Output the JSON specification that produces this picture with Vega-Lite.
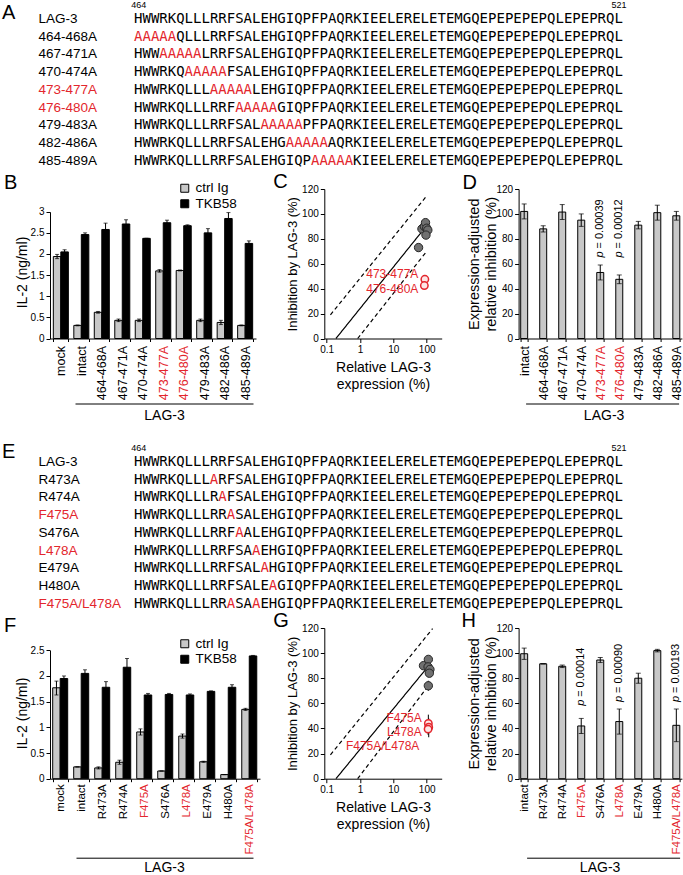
{
 "$schema": "https://vega.github.io/schema/vega-lite/v6.json",
 "background": "white",
 "padding": {"left": 2, "top": 0, "right": 0, "bottom": 0},
 "config": {
  "view": {"stroke": null},
  "font": "Liberation Sans",
  "axis": {"grid": false, "domainColor": "#000", "tickColor": "#000", "labelColor": "#000", "titleColor": "#000", "titleFontWeight": "normal", "labelFontSize": 10, "titleFontSize": 14, "tickSize": 4, "labelPadding": 2, "domainWidth": 1, "tickWidth": 1, "labelOverlap": false},
  "title": {"fontSize": 20, "fontWeight": "normal", "anchor": "start", "frame": "group", "color": "#000", "offset": 0},
  "legend": {"labelFontSize": 13.5, "labelColor": "#000"}
 },
 "datasets": {
  "seqA": [
   {"row": "LAG-3", "start": 464, "seq": "HWWRKQLLLRRFSALEHGIQPFPAQRKIEELERELETEMGQEPEPEPEPQLEPEPRQL", "mut": false},
   {"row": "464-468A", "start": 464, "seq": "AAAAA", "mut": true},
   {"row": "464-468A", "start": 469, "seq": "QLLLRRFSALEHGIQPFPAQRKIEELERELETEMGQEPEPEPEPQLEPEPRQL", "mut": false},
   {"row": "467-471A", "start": 464, "seq": "HWW", "mut": false},
   {"row": "467-471A", "start": 467, "seq": "AAAAA", "mut": true},
   {"row": "467-471A", "start": 472, "seq": "LRRFSALEHGIQPFPAQRKIEELERELETEMGQEPEPEPEPQLEPEPRQL", "mut": false},
   {"row": "470-474A", "start": 464, "seq": "HWWRKQ", "mut": false},
   {"row": "470-474A", "start": 470, "seq": "AAAAA", "mut": true},
   {"row": "470-474A", "start": 475, "seq": "FSALEHGIQPFPAQRKIEELERELETEMGQEPEPEPEPQLEPEPRQL", "mut": false},
   {"row": "473-477A", "start": 464, "seq": "HWWRKQLLL", "mut": false},
   {"row": "473-477A", "start": 473, "seq": "AAAAA", "mut": true},
   {"row": "473-477A", "start": 478, "seq": "LEHGIQPFPAQRKIEELERELETEMGQEPEPEPEPQLEPEPRQL", "mut": false},
   {"row": "476-480A", "start": 464, "seq": "HWWRKQLLLRRF", "mut": false},
   {"row": "476-480A", "start": 476, "seq": "AAAAA", "mut": true},
   {"row": "476-480A", "start": 481, "seq": "GIQPFPAQRKIEELERELETEMGQEPEPEPEPQLEPEPRQL", "mut": false},
   {"row": "479-483A", "start": 464, "seq": "HWWRKQLLLRRFSAL", "mut": false},
   {"row": "479-483A", "start": 479, "seq": "AAAAA", "mut": true},
   {"row": "479-483A", "start": 484, "seq": "PFPAQRKIEELERELETEMGQEPEPEPEPQLEPEPRQL", "mut": false},
   {"row": "482-486A", "start": 464, "seq": "HWWRKQLLLRRFSALEHG", "mut": false},
   {"row": "482-486A", "start": 482, "seq": "AAAAA", "mut": true},
   {"row": "482-486A", "start": 487, "seq": "AQRKIEELERELETEMGQEPEPEPEPQLEPEPRQL", "mut": false},
   {"row": "485-489A", "start": 464, "seq": "HWWRKQLLLRRFSALEHGIQP", "mut": false},
   {"row": "485-489A", "start": 485, "seq": "AAAAA", "mut": true},
   {"row": "485-489A", "start": 490, "seq": "KIEELERELETEMGQEPEPEPEPQLEPEPRQL", "mut": false}
  ],
  "seqE": [
   {"row": "LAG-3", "start": 464, "seq": "HWWRKQLLLRRFSALEHGIQPFPAQRKIEELERELETEMGQEPEPEPEPQLEPEPRQL", "mut": false},
   {"row": "R473A", "start": 464, "seq": "HWWRKQLLL", "mut": false},
   {"row": "R473A", "start": 473, "seq": "A", "mut": true},
   {"row": "R473A", "start": 474, "seq": "RFSALEHGIQPFPAQRKIEELERELETEMGQEPEPEPEPQLEPEPRQL", "mut": false},
   {"row": "R474A", "start": 464, "seq": "HWWRKQLLLR", "mut": false},
   {"row": "R474A", "start": 474, "seq": "A", "mut": true},
   {"row": "R474A", "start": 475, "seq": "FSALEHGIQPFPAQRKIEELERELETEMGQEPEPEPEPQLEPEPRQL", "mut": false},
   {"row": "F475A", "start": 464, "seq": "HWWRKQLLLRR", "mut": false},
   {"row": "F475A", "start": 475, "seq": "A", "mut": true},
   {"row": "F475A", "start": 476, "seq": "SALEHGIQPFPAQRKIEELERELETEMGQEPEPEPEPQLEPEPRQL", "mut": false},
   {"row": "S476A", "start": 464, "seq": "HWWRKQLLLRRF", "mut": false},
   {"row": "S476A", "start": 476, "seq": "A", "mut": true},
   {"row": "S476A", "start": 477, "seq": "ALEHGIQPFPAQRKIEELERELETEMGQEPEPEPEPQLEPEPRQL", "mut": false},
   {"row": "L478A", "start": 464, "seq": "HWWRKQLLLRRFSA", "mut": false},
   {"row": "L478A", "start": 478, "seq": "A", "mut": true},
   {"row": "L478A", "start": 479, "seq": "EHGIQPFPAQRKIEELERELETEMGQEPEPEPEPQLEPEPRQL", "mut": false},
   {"row": "E479A", "start": 464, "seq": "HWWRKQLLLRRFSAL", "mut": false},
   {"row": "E479A", "start": 479, "seq": "A", "mut": true},
   {"row": "E479A", "start": 480, "seq": "HGIQPFPAQRKIEELERELETEMGQEPEPEPEPQLEPEPRQL", "mut": false},
   {"row": "H480A", "start": 464, "seq": "HWWRKQLLLRRFSALE", "mut": false},
   {"row": "H480A", "start": 480, "seq": "A", "mut": true},
   {"row": "H480A", "start": 481, "seq": "GIQPFPAQRKIEELERELETEMGQEPEPEPEPQLEPEPRQL", "mut": false},
   {"row": "F475A/L478A", "start": 464, "seq": "HWWRKQLLLRR", "mut": false},
   {"row": "F475A/L478A", "start": 475, "seq": "A", "mut": true},
   {"row": "F475A/L478A", "start": 476, "seq": "SA", "mut": false},
   {"row": "F475A/L478A", "start": 478, "seq": "A", "mut": true},
   {"row": "F475A/L478A", "start": 479, "seq": "EHGIQPFPAQRKIEELERELETEMGQEPEPEPEPQLEPEPRQL", "mut": false}
  ],
  "barB": [
   {"cat": "mock", "treat": "ctrl Ig", "v": 1.94, "lo": 1.89, "hi": 1.99},
   {"cat": "mock", "treat": "TKB58", "v": 2.05, "lo": 2.0, "hi": 2.1},
   {"cat": "intact", "treat": "ctrl Ig", "v": 0.31, "lo": 0.3, "hi": 0.32},
   {"cat": "intact", "treat": "TKB58", "v": 2.46, "lo": 2.42, "hi": 2.5},
   {"cat": "464-468A", "treat": "ctrl Ig", "v": 0.62, "lo": 0.6, "hi": 0.64},
   {"cat": "464-468A", "treat": "TKB58", "v": 2.58, "lo": 2.43, "hi": 2.73},
   {"cat": "467-471A", "treat": "ctrl Ig", "v": 0.43, "lo": 0.4, "hi": 0.46},
   {"cat": "467-471A", "treat": "TKB58", "v": 2.71, "lo": 2.61, "hi": 2.81},
   {"cat": "470-474A", "treat": "ctrl Ig", "v": 0.43, "lo": 0.4, "hi": 0.46},
   {"cat": "470-474A", "treat": "TKB58", "v": 2.37, "lo": 2.37, "hi": 2.37},
   {"cat": "473-477A", "treat": "ctrl Ig", "v": 1.6, "lo": 1.57, "hi": 1.63},
   {"cat": "473-477A", "treat": "TKB58", "v": 2.74, "lo": 2.68, "hi": 2.8},
   {"cat": "476-480A", "treat": "ctrl Ig", "v": 1.61, "lo": 1.6, "hi": 1.62},
   {"cat": "476-480A", "treat": "TKB58", "v": 2.67, "lo": 2.65, "hi": 2.69},
   {"cat": "479-483A", "treat": "ctrl Ig", "v": 0.43, "lo": 0.4, "hi": 0.46},
   {"cat": "479-483A", "treat": "TKB58", "v": 2.5, "lo": 2.4, "hi": 2.6},
   {"cat": "482-486A", "treat": "ctrl Ig", "v": 0.38, "lo": 0.33, "hi": 0.43},
   {"cat": "482-486A", "treat": "TKB58", "v": 2.84, "lo": 2.7, "hi": 2.98},
   {"cat": "485-489A", "treat": "ctrl Ig", "v": 0.31, "lo": 0.3, "hi": 0.32},
   {"cat": "485-489A", "treat": "TKB58", "v": 2.25, "lo": 2.19, "hi": 2.31}
  ],
  "lineC": [
   {"line": "fit", "x": 0.19, "y": 0}, {"line": "fit", "x": 70, "y": 85.5},
   {"line": "upper", "x": 0.13, "y": 19}, {"line": "upper", "x": 100, "y": 114.5},
   {"line": "lower", "x": 0.85, "y": 0}, {"line": "lower", "x": 100, "y": 70}
  ],
  "ptsC": [
   {"x": 72, "y": 88, "lo": 86, "hi": 90},
   {"x": 85, "y": 90, "lo": 88, "hi": 92},
   {"x": 92, "y": 93, "lo": 91, "hi": 96},
   {"x": 100, "y": 88.5, "lo": 86.5, "hi": 90.5},
   {"x": 108, "y": 87, "lo": 85, "hi": 89},
   {"x": 95, "y": 83, "lo": 81, "hi": 85},
   {"x": 57, "y": 73, "lo": 70, "hi": 75}
  ],
  "redC": [
   {"x": 88, "y": 47.5, "lo": 44, "hi": 51},
   {"x": 85, "y": 42.5, "lo": 41, "hi": 44}
  ],
  "labC": [
   {"t": "473-477A", "x": 56, "y": 52},
   {"t": "476-480A", "x": 56, "y": 40}
  ],
  "barD": [
   {"cat": "intact", "v": 102, "lo": 96, "hi": 108},
   {"cat": "464-468A", "v": 88, "lo": 85.5, "hi": 90.5},
   {"cat": "467-471A", "v": 101.5, "lo": 95.5, "hi": 107.5},
   {"cat": "470-474A", "v": 95, "lo": 90, "hi": 100},
   {"cat": "473-477A", "v": 53, "lo": 47, "hi": 59},
   {"cat": "476-480A", "v": 47.5, "lo": 44, "hi": 51},
   {"cat": "479-483A", "v": 91, "lo": 88, "hi": 94},
   {"cat": "482-486A", "v": 101, "lo": 95, "hi": 107},
   {"cat": "485-489A", "v": 98.5, "lo": 95, "hi": 102}
  ],
  "pD": [
   {"cat": "473-477A", "py": 65, "ptxt": "= 0.00039"},
   {"cat": "476-480A", "py": 65, "ptxt": "= 0.00012"}
  ],
  "barF": [
   {"cat": "mock", "treat": "ctrl Ig", "v": 1.77, "lo": 1.63, "hi": 1.9},
   {"cat": "mock", "treat": "TKB58", "v": 1.95, "lo": 1.9, "hi": 2.0},
   {"cat": "intact", "treat": "ctrl Ig", "v": 0.23, "lo": 0.23, "hi": 0.23},
   {"cat": "intact", "treat": "TKB58", "v": 2.05, "lo": 1.98, "hi": 2.12},
   {"cat": "R473A", "treat": "ctrl Ig", "v": 0.21, "lo": 0.19, "hi": 0.23},
   {"cat": "R473A", "treat": "TKB58", "v": 1.78, "lo": 1.67, "hi": 1.89},
   {"cat": "R474A", "treat": "ctrl Ig", "v": 0.32, "lo": 0.28, "hi": 0.36},
   {"cat": "R474A", "treat": "TKB58", "v": 2.17, "lo": 2.0, "hi": 2.34},
   {"cat": "F475A", "treat": "ctrl Ig", "v": 0.91, "lo": 0.85, "hi": 0.97},
   {"cat": "F475A", "treat": "TKB58", "v": 1.63, "lo": 1.6, "hi": 1.66},
   {"cat": "S476A", "treat": "ctrl Ig", "v": 0.15, "lo": 0.15, "hi": 0.15},
   {"cat": "S476A", "treat": "TKB58", "v": 1.64, "lo": 1.62, "hi": 1.66},
   {"cat": "L478A", "treat": "ctrl Ig", "v": 0.83, "lo": 0.79, "hi": 0.87},
   {"cat": "L478A", "treat": "TKB58", "v": 1.63, "lo": 1.6, "hi": 1.65},
   {"cat": "E479A", "treat": "ctrl Ig", "v": 0.33, "lo": 0.32, "hi": 0.34},
   {"cat": "E479A", "treat": "TKB58", "v": 1.7, "lo": 1.69, "hi": 1.71},
   {"cat": "H480A", "treat": "ctrl Ig", "v": 0.08, "lo": 0.08, "hi": 0.08},
   {"cat": "H480A", "treat": "TKB58", "v": 1.78, "lo": 1.73, "hi": 1.83},
   {"cat": "F475A/L478A", "treat": "ctrl Ig", "v": 1.35, "lo": 1.33, "hi": 1.37},
   {"cat": "F475A/L478A", "treat": "TKB58", "v": 2.39, "lo": 2.38, "hi": 2.4}
  ],
  "lineG": [
   {"line": "fit", "x": 0.19, "y": 0}, {"line": "fit", "x": 100, "y": 88},
   {"line": "upper", "x": 0.13, "y": 19}, {"line": "upper", "x": 150, "y": 119.5},
   {"line": "lower", "x": 0.85, "y": 0}, {"line": "lower", "x": 120, "y": 75}
  ],
  "ptsG": [
   {"x": 80, "y": 90, "lo": 88, "hi": 92},
   {"x": 112, "y": 95, "lo": 93, "hi": 97},
   {"x": 110, "y": 89, "lo": 87, "hi": 91},
   {"x": 125, "y": 87, "lo": 85, "hi": 89},
   {"x": 120, "y": 84, "lo": 82, "hi": 86},
   {"x": 112, "y": 74, "lo": 70, "hi": 78}
  ],
  "redG": [
   {"x": 112, "y": 44, "lo": 38, "hi": 51},
   {"x": 115, "y": 41, "lo": 33, "hi": 48},
   {"x": 110, "y": 39.5, "lo": 35, "hi": 44}
  ],
  "labG": [
   {"t": "F475A", "x": 71, "y": 48},
   {"t": "L478A", "x": 71, "y": 37},
   {"t": "F475A/L478A", "x": 60, "y": 26}
  ],
  "barH": [
   {"cat": "intact", "v": 99.5, "lo": 95, "hi": 104},
   {"cat": "R473A", "v": 91.5, "lo": 91.5, "hi": 91.5},
   {"cat": "R474A", "v": 89.5, "lo": 88.5, "hi": 90.5},
   {"cat": "F475A", "v": 42, "lo": 36, "hi": 48},
   {"cat": "S476A", "v": 94.5, "lo": 92.5, "hi": 96.5},
   {"cat": "L478A", "v": 45.5, "lo": 35.5, "hi": 55.5},
   {"cat": "E479A", "v": 80, "lo": 76, "hi": 84},
   {"cat": "H480A", "v": 102, "lo": 101, "hi": 103},
   {"cat": "F475A/L478A", "v": 42.5, "lo": 29.5, "hi": 55.5}
  ],
  "pH": [
   {"cat": "F475A", "py": 58, "ptxt": "= 0.00014"},
   {"cat": "L478A", "py": 61, "ptxt": "= 0.00090"},
   {"cat": "F475A/L478A", "py": 61, "ptxt": "= 0.00193"}
  ],
  "none": []
 },
 "spacing": 10,
 "bounds": "flush",
 "resolve": {"scale": {"color": "independent", "strokeDash": "independent"}, "legend": {"color": "independent"}},
 "vconcat": [
  {
   "width": 632, "height": 168.5,
   "title": {"text": "A", "dx": -48, "dy": 27},
   "data": {"name": "seqA"},
   "mark": {"type": "text", "align": "left", "baseline": "middle", "dx": -4.2, "font": "DejaVu Sans Mono", "fontSize": 14},
   "encoding": {
    "x": {"field": "start", "type": "quantitative", "scale": {"domain": [453.53, 528.53], "nice": false, "zero": false}, "axis": {"orient": "top", "values": [464, 521], "tickCount": 20, "domain": false, "ticks": false, "tickSize": 0, "labelFontSize": 9, "labelPadding": 1, "title": null, "format": "d"}},
    "y": {"field": "row", "type": "nominal", "bandPosition": 0.5, "scale": {"type": "band", "domain": ["LAG-3", "464-468A", "467-471A", "470-474A", "473-477A", "476-480A", "479-483A", "482-486A", "485-489A"], "paddingInner": 0, "paddingOuter": 0.2465, "align": 0}, "axis": {"title": null, "domain": false, "ticks": false, "tickSize": 0, "labelAlign": "left", "labelPadding": 12, "labelFontSize": 13.5, "labelColor": {"condition": {"test": "datum.value === '473-477A' || datum.value === '476-480A'", "value": "#e3262d"}, "value": "#000"}}},
    "text": {"field": "seq"},
    "color": {"condition": {"test": "datum.mut", "value": "#e3262d"}, "value": "#000"}
   }
  },
  {
   "resolve": {"scale": {"color": "independent"}, "legend": {"color": "independent"}},
   "hconcat": [
    {
     "width": 206, "height": 149.5,
     "title": {"text": "B", "dx": -46, "dy": 15.5},
     "data": {"name": "barB"},
     "resolve": {"axis": {"x": "independent"}},
     "layer": [
      {
       "mark": {"type": "bar", "stroke": "#000", "strokeWidth": 1},
       "encoding": {
        "x": {"field": "cat", "type": "nominal", "scale": {"domain": ["mock", "intact", "464-468A", "467-471A", "470-474A", "473-477A", "476-480A", "479-483A", "482-486A", "485-489A"], "paddingInner": 0.267, "paddingOuter": 0.163}, "axis": {"title": null, "labelAngle": 270, "labelAlign": "right", "labelBaseline": "middle", "labelFontSize": 12.5, "labelPadding": 4, "tickSize": 3, "tickBand": "extent", "labelColor": {"condition": {"test": "datum.value === '473-477A' || datum.value === '476-480A'", "value": "#e3262d"}, "value": "#000"}}},
        "xOffset": {"field": "treat", "type": "nominal", "scale": {"domain": ["ctrl Ig", "TKB58"], "paddingInner": 0, "paddingOuter": 0}},
        "y": {"field": "v", "type": "quantitative", "scale": {"domain": [0, 3.538], "nice": false}, "axis": {"title": "IL-2 (ng/ml)", "values": [0, 0.5, 1, 1.5, 2, 2.5, 3], "tickCount": 20, "format": "~g", "labelOverlap": false, "titleFontSize": 14, "titlePadding": 1, "titleY": 83, "domainDash": [126.6, 1000]}},
        "color": {"field": "treat", "type": "nominal", "scale": {"domain": ["ctrl Ig", "TKB58"], "range": ["#c8c8c8", "#000000"]}, "legend": {"orient": "none", "legendX": 128, "legendY": -7.5, "title": null, "symbolType": "square", "symbolSize": 64, "symbolStrokeColor": "#000", "symbolStrokeWidth": 1, "labelFontSize": 13.5, "rowPadding": 0.5, "labelOffset": 4, "padding": 0}}
       }
      },
      {
       "mark": {"type": "rule", "color": "#000", "strokeWidth": 1},
       "encoding": {
        "x": {"field": "cat", "type": "nominal", "axis": {"orient": "bottom", "offset": 65, "labels": false, "ticks": false, "tickSize": 0, "domainDash": [0, 25, 178, 1000], "title": "LAG-3", "titleFontSize": 14, "titlePadding": 5, "titleX": 114}},
        "xOffset": {"field": "treat", "type": "nominal"},
        "y": {"field": "lo", "type": "quantitative"},
        "y2": {"field": "hi"}
       }
      },
      {
       "mark": {"type": "tick", "color": "#000", "size": 4, "thickness": 1},
       "encoding": {"x": {"field": "cat", "type": "nominal", "axis": null}, "xOffset": {"field": "treat", "type": "nominal"}, "y": {"field": "hi", "type": "quantitative"}}
      },
      {
       "mark": {"type": "tick", "color": "#000", "size": 4, "thickness": 1},
       "encoding": {"x": {"field": "cat", "type": "nominal", "axis": null}, "xOffset": {"field": "treat", "type": "nominal"}, "y": {"field": "lo", "type": "quantitative"}}
      }
     ]
    },
    {
     "width": 125.1, "height": 149.5,
     "title": {"text": "C", "dx": -51, "dy": 12},
     "layer": [
      {
       "data": {"name": "lineC"},
       "mark": {"type": "line", "color": "#000", "strokeWidth": 1.2},
       "encoding": {
        "x": {"field": "x", "type": "quantitative", "scale": {"type": "log", "domain": [0.085, 479], "nice": false}, "axis": {"title": ["Relative LAG-3", "expression (%)"], "values": [0.1, 1, 10, 100], "tickCount": 20, "format": "~g", "labelOverlap": false, "domainDash": [117.4, 1000], "titleX": 58.7, "titlePadding": 6, "titleFontSize": 14, "titleLineHeight": 17}},
        "y": {"field": "y", "type": "quantitative", "scale": {"domain": [0, 120], "nice": false}, "axis": {"title": "Inhibition by LAG-3 (%)", "values": [0, 20, 40, 60, 80, 100, 120], "tickCount": 20, "labelOverlap": false, "titleFontSize": 13, "titlePadding": 2}},
        "detail": {"field": "line", "type": "nominal"},
        "strokeDash": {"field": "line", "type": "nominal", "scale": {"domain": ["fit", "upper", "lower"], "range": [[1, 0], [4, 3], [4, 3]]}, "legend": null}
       }
      },
      {
       "data": {"name": "ptsC"},
       "mark": {"type": "rule", "color": "#000"},
       "encoding": {"x": {"field": "x", "type": "quantitative"}, "y": {"field": "lo", "type": "quantitative"}, "y2": {"field": "hi"}}
      },
      {
       "data": {"name": "ptsC"},
       "mark": {"type": "circle", "size": 70, "fill": "#707070", "stroke": "#262626", "strokeWidth": 1, "opacity": 1},
       "encoding": {"x": {"field": "x", "type": "quantitative"}, "y": {"field": "y", "type": "quantitative"}}
      },
      {
       "data": {"name": "redC"},
       "mark": {"type": "rule", "color": "#e3262d"},
       "encoding": {"x": {"field": "x", "type": "quantitative"}, "y": {"field": "lo", "type": "quantitative"}, "y2": {"field": "hi"}}
      },
      {
       "data": {"name": "redC"},
       "mark": {"type": "point", "shape": "circle", "filled": true, "size": 55, "fill": "#fde6e6", "stroke": "#e3262d", "strokeWidth": 1.5, "opacity": 1},
       "encoding": {"x": {"field": "x", "type": "quantitative"}, "y": {"field": "y", "type": "quantitative"}}
      },
      {
       "data": {"name": "labC"},
       "mark": {"type": "text", "align": "right", "baseline": "middle", "fontSize": 12, "color": "#e3262d"},
       "encoding": {"x": {"field": "x", "type": "quantitative"}, "y": {"field": "y", "type": "quantitative"}, "text": {"field": "t"}}
      }
     ]
    },
    {
     "width": 163.3, "height": 149.5,
     "title": {"text": "D", "dx": -56, "dy": 12.5},
     "data": {"name": "barD"},
     "resolve": {"axis": {"x": "independent"}},
     "layer": [
      {
       "mark": {"type": "bar", "fill": "#c8c8c8", "stroke": "#000", "strokeWidth": 1},
       "encoding": {
        "x": {"field": "cat", "type": "nominal", "scale": {"domain": ["intact", "464-468A", "467-471A", "470-474A", "473-477A", "476-480A", "479-483A", "482-486A", "485-489A"], "paddingInner": 0.633, "paddingOuter": 0.11}, "axis": {"title": null, "labelAngle": 270, "labelAlign": "right", "labelBaseline": "middle", "labelFontSize": 12.5, "labelPadding": 4, "tickSize": 3, "tickBand": "extent", "labelColor": {"condition": {"test": "datum.value === '473-477A' || datum.value === '476-480A'", "value": "#e3262d"}, "value": "#000"}}},
        "y": {"field": "v", "type": "quantitative", "scale": {"domain": [0, 120], "nice": false}, "axis": {"title": ["Expression-adjusted", "relative inhibition (%)"], "values": [0, 20, 40, 60, 80, 100, 120], "tickCount": 20, "labelOverlap": false, "titleFontSize": 14.5, "titleLineHeight": 17, "titlePadding": -3}}
       }
      },
      {
       "mark": {"type": "rule", "color": "#000"},
       "encoding": {
        "x": {"field": "cat", "type": "nominal", "axis": {"orient": "bottom", "offset": 65, "labels": false, "ticks": false, "tickSize": 0, "domainDash": [0, 7, 153, 1000], "title": "LAG-3", "titleFontSize": 14, "titlePadding": 5, "titleX": 85}},
        "y": {"field": "lo", "type": "quantitative"},
        "y2": {"field": "hi"}
       }
      },
      {
       "mark": {"type": "tick", "color": "#000", "size": 5, "thickness": 1},
       "encoding": {"x": {"field": "cat", "type": "nominal", "axis": null}, "y": {"field": "hi", "type": "quantitative"}}
      },
      {
       "mark": {"type": "tick", "color": "#000", "size": 5, "thickness": 1},
       "encoding": {"x": {"field": "cat", "type": "nominal", "axis": null}, "y": {"field": "lo", "type": "quantitative"}}
      },
      {
       "data": {"name": "pD"},
       "mark": {"type": "text", "angle": 270, "align": "left", "baseline": "middle", "fontSize": 11, "fontStyle": "italic"},
       "encoding": {"x": {"field": "cat", "type": "nominal", "axis": null}, "y": {"field": "py", "type": "quantitative"}, "text": {"value": "p"}}
      },
      {
       "data": {"name": "pD"},
       "mark": {"type": "text", "angle": 270, "align": "left", "baseline": "middle", "fontSize": 11, "dx": 9},
       "encoding": {"x": {"field": "cat", "type": "nominal", "axis": null}, "y": {"field": "py", "type": "quantitative"}, "text": {"field": "ptxt"}}
      }
     ]
    }
   ],
   "spacing": 68.3,
   "bounds": "flush"
  },
  {
   "width": 1, "height": 243.5,
   "data": {"name": "none"},
   "mark": {"type": "point", "opacity": 0},
   "encoding": {}
  },
  {
   "width": 632, "height": 165,
   "title": {"text": "E", "dx": -48, "dy": 23},
   "data": {"name": "seqE"},
   "mark": {"type": "text", "align": "left", "baseline": "middle", "dx": -4.2, "font": "DejaVu Sans Mono", "fontSize": 14},
   "encoding": {
    "x": {"field": "start", "type": "quantitative", "scale": {"domain": [453.53, 528.53], "nice": false, "zero": false}, "axis": {"orient": "top", "values": [464, 521], "tickCount": 20, "domain": false, "ticks": false, "tickSize": 0, "labelFontSize": 9, "labelPadding": 1, "title": null, "format": "d"}},
    "y": {"field": "row", "type": "nominal", "bandPosition": 0.5, "scale": {"type": "band", "domain": ["LAG-3", "R473A", "R474A", "F475A", "S476A", "L478A", "E479A", "H480A", "F475A/L478A"], "paddingInner": 0, "paddingOuter": 0.148, "align": 0}, "axis": {"title": null, "domain": false, "ticks": false, "tickSize": 0, "labelAlign": "left", "labelPadding": 12, "labelFontSize": 13.5, "labelColor": {"condition": {"test": "indexof(['F475A','L478A','F475A/L478A'], datum.value) >= 0", "value": "#e3262d"}, "value": "#000"}}},
    "text": {"field": "seq"},
    "color": {"condition": {"test": "datum.mut", "value": "#e3262d"}, "value": "#000"}
   }
  },
  {
   "resolve": {"scale": {"color": "independent"}, "legend": {"color": "independent"}},
   "hconcat": [
    {
     "width": 210, "height": 150.7,
     "title": {"text": "F", "dx": -46, "dy": 11.5},
     "data": {"name": "barF"},
     "resolve": {"axis": {"x": "independent"}},
     "layer": [
      {
       "mark": {"type": "bar", "stroke": "#000", "strokeWidth": 1},
       "encoding": {
        "x": {"field": "cat", "type": "nominal", "scale": {"domain": ["mock", "intact", "R473A", "R474A", "F475A", "S476A", "L478A", "E479A", "H480A", "F475A/L478A"], "paddingInner": 0.26, "paddingOuter": 0.128}, "axis": {"title": null, "labelAngle": 270, "labelAlign": "right", "labelBaseline": "middle", "labelFontSize": 11.5, "labelPadding": 2, "tickSize": 3, "tickBand": "extent", "labelColor": {"condition": {"test": "indexof(['F475A','L478A','F475A/L478A'], datum.value) >= 0", "value": "#e3262d"}, "value": "#000"}}},
        "xOffset": {"field": "treat", "type": "nominal", "scale": {"domain": ["ctrl Ig", "TKB58"], "paddingInner": 0, "paddingOuter": 0}},
        "y": {"field": "v", "type": "quantitative", "scale": {"domain": [0, 2.934], "nice": false}, "axis": {"title": "IL-2 (ng/ml)", "values": [0, 0.5, 1, 1.5, 2, 2.5], "tickCount": 20, "format": "~g", "labelOverlap": false, "titleFontSize": 14, "titlePadding": 1, "titleY": 85, "domainDash": [128.4, 1000]}},
        "color": {"field": "treat", "type": "nominal", "scale": {"domain": ["ctrl Ig", "TKB58"], "range": ["#c8c8c8", "#000000"]}, "legend": {"orient": "none", "legendX": 128, "legendY": 9, "title": null, "symbolType": "square", "symbolSize": 64, "symbolStrokeColor": "#000", "symbolStrokeWidth": 1, "labelFontSize": 13.5, "rowPadding": 0.5, "labelOffset": 4, "padding": 0}}
       }
      },
      {
       "mark": {"type": "rule", "color": "#000", "strokeWidth": 1},
       "encoding": {
        "x": {"field": "cat", "type": "nominal", "axis": {"orient": "bottom", "offset": 79, "labels": false, "ticks": false, "tickSize": 0, "domainDash": [0, 26, 177, 1000], "title": "LAG-3", "titleFontSize": 14, "titlePadding": 3, "titleX": 114}},
        "xOffset": {"field": "treat", "type": "nominal"},
        "y": {"field": "lo", "type": "quantitative"},
        "y2": {"field": "hi"}
       }
      },
      {
       "mark": {"type": "tick", "color": "#000", "size": 4, "thickness": 1},
       "encoding": {"x": {"field": "cat", "type": "nominal", "axis": null}, "xOffset": {"field": "treat", "type": "nominal"}, "y": {"field": "hi", "type": "quantitative"}}
      },
      {
       "mark": {"type": "tick", "color": "#000", "size": 4, "thickness": 1},
       "encoding": {"x": {"field": "cat", "type": "nominal", "axis": null}, "xOffset": {"field": "treat", "type": "nominal"}, "y": {"field": "lo", "type": "quantitative"}}
      }
     ]
    },
    {
     "width": 129.1, "height": 150.7,
     "title": {"text": "G", "dx": -51, "dy": 12},
     "layer": [
      {
       "data": {"name": "lineG"},
       "mark": {"type": "line", "color": "#000", "strokeWidth": 1.2},
       "encoding": {
        "x": {"field": "x", "type": "quantitative", "scale": {"type": "log", "domain": [0.085, 631.6], "nice": false}, "axis": {"title": ["Relative LAG-3", "expression (%)"], "values": [0.1, 1, 10, 100], "tickCount": 20, "format": "~g", "labelOverlap": false, "domainDash": [117.4, 1000], "titleX": 58.7, "titlePadding": 6, "titleFontSize": 14, "titleLineHeight": 17}},
        "y": {"field": "y", "type": "quantitative", "scale": {"domain": [0, 120], "nice": false}, "axis": {"title": "Inhibition by LAG-3 (%)", "values": [0, 20, 40, 60, 80, 100, 120], "tickCount": 20, "labelOverlap": false, "titleFontSize": 13, "titlePadding": 2}},
        "detail": {"field": "line", "type": "nominal"},
        "strokeDash": {"field": "line", "type": "nominal", "scale": {"domain": ["fit", "upper", "lower"], "range": [[1, 0], [4, 3], [4, 3]]}, "legend": null}
       }
      },
      {
       "data": {"name": "ptsG"},
       "mark": {"type": "rule", "color": "#000"},
       "encoding": {"x": {"field": "x", "type": "quantitative"}, "y": {"field": "lo", "type": "quantitative"}, "y2": {"field": "hi"}}
      },
      {
       "data": {"name": "ptsG"},
       "mark": {"type": "circle", "size": 70, "fill": "#707070", "stroke": "#262626", "strokeWidth": 1, "opacity": 1},
       "encoding": {"x": {"field": "x", "type": "quantitative"}, "y": {"field": "y", "type": "quantitative"}}
      },
      {
       "data": {"name": "redG"},
       "mark": {"type": "rule", "color": "#000"},
       "encoding": {"x": {"field": "x", "type": "quantitative"}, "y": {"field": "lo", "type": "quantitative"}, "y2": {"field": "hi"}}
      },
      {
       "data": {"name": "redG"},
       "mark": {"type": "point", "shape": "circle", "filled": true, "size": 55, "fill": "#fde6e6", "stroke": "#e3262d", "strokeWidth": 1.5, "opacity": 1},
       "encoding": {"x": {"field": "x", "type": "quantitative"}, "y": {"field": "y", "type": "quantitative"}}
      },
      {
       "data": {"name": "labG"},
       "mark": {"type": "text", "align": "right", "baseline": "middle", "fontSize": 12, "color": "#e3262d"},
       "encoding": {"x": {"field": "x", "type": "quantitative"}, "y": {"field": "y", "type": "quantitative"}, "text": {"field": "t"}}
      }
     ]
    },
    {
     "width": 163.3, "height": 150.7,
     "title": {"text": "H", "dx": -57, "dy": 12},
     "data": {"name": "barH"},
     "resolve": {"axis": {"x": "independent"}},
     "layer": [
      {
       "mark": {"type": "bar", "fill": "#c8c8c8", "stroke": "#000", "strokeWidth": 1},
       "encoding": {
        "x": {"field": "cat", "type": "nominal", "scale": {"domain": ["intact", "R473A", "R474A", "F475A", "S476A", "L478A", "E479A", "H480A", "F475A/L478A"], "paddingInner": 0.633, "paddingOuter": 0.11}, "axis": {"title": null, "labelAngle": 270, "labelAlign": "right", "labelBaseline": "middle", "labelFontSize": 11.5, "labelPadding": 2, "tickSize": 3, "tickBand": "extent", "labelColor": {"condition": {"test": "indexof(['F475A','L478A','F475A/L478A'], datum.value) >= 0", "value": "#e3262d"}, "value": "#000"}}},
        "y": {"field": "v", "type": "quantitative", "scale": {"domain": [0, 120], "nice": false}, "axis": {"title": ["Expression-adjusted", "relative inhibition (%)"], "values": [0, 20, 40, 60, 80, 100, 120], "tickCount": 20, "labelOverlap": false, "titleFontSize": 14.5, "titleLineHeight": 17, "titlePadding": -3}}
       }
      },
      {
       "mark": {"type": "rule", "color": "#000"},
       "encoding": {
        "x": {"field": "cat", "type": "nominal", "axis": {"orient": "bottom", "offset": 79, "labels": false, "ticks": false, "tickSize": 0, "domainDash": [0, 8, 153, 1000], "title": "LAG-3", "titleFontSize": 14, "titlePadding": 3, "titleX": 81}},
        "y": {"field": "lo", "type": "quantitative"},
        "y2": {"field": "hi"}
       }
      },
      {
       "mark": {"type": "tick", "color": "#000", "size": 5, "thickness": 1},
       "encoding": {"x": {"field": "cat", "type": "nominal", "axis": null}, "y": {"field": "hi", "type": "quantitative"}}
      },
      {
       "mark": {"type": "tick", "color": "#000", "size": 5, "thickness": 1},
       "encoding": {"x": {"field": "cat", "type": "nominal", "axis": null}, "y": {"field": "lo", "type": "quantitative"}}
      },
      {
       "data": {"name": "pH"},
       "mark": {"type": "text", "angle": 270, "align": "left", "baseline": "middle", "fontSize": 11, "fontStyle": "italic"},
       "encoding": {"x": {"field": "cat", "type": "nominal", "axis": null}, "y": {"field": "py", "type": "quantitative"}, "text": {"value": "p"}}
      },
      {
       "data": {"name": "pH"},
       "mark": {"type": "text", "angle": 270, "align": "left", "baseline": "middle", "fontSize": 11, "dx": 9},
       "encoding": {"x": {"field": "cat", "type": "nominal", "axis": null}, "y": {"field": "py", "type": "quantitative"}, "text": {"field": "ptxt"}}
      }
     ]
    }
   ],
   "spacing": 64.3,
   "bounds": "flush"
  }
 ]
}
